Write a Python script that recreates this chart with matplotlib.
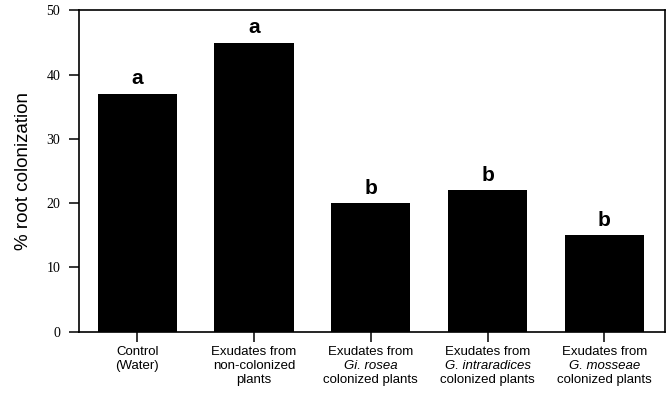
import matplotlib
matplotlib.use("Agg")
import matplotlib.pyplot as plt
import matplotlib.transforms as mtransforms

# data
categories = ["Control", "Exudates (non-colonized)", "Exudates (Gi. rosea)",
              "Exudates (G. intraradices)", "Exudates (G. mosseae)"]
colonization = [37, 45, 20, 22, 15]
letters = ["a", "a", "b", "b", "b"]

# tick label lines: (text, italic)
label_lines = [
    [("Control", False), ("(Water)", False)],
    [("Exudates from", False), ("non-colonized", False), ("plants", False)],
    [("Exudates from", False), ("Gi. rosea", True), ("colonized plants", False)],
    [("Exudates from", False), ("G. intraradices", True), ("colonized plants", False)],
    [("Exudates from", False), ("G. mosseae", True), ("colonized plants", False)],
]
yticks = [0, 10, 20, 30, 40, 50]

sans = ["Liberation Sans", "DejaVu Sans"]
serif = ["Liberation Serif", "DejaVu Serif"]

fig = plt.figure(figsize=(6.69, 4.0), dpi=100)
ax = fig.add_axes([0.118, 0.171, 0.876, 0.803])

x = list(range(len(categories)))
ax.bar(x, colonization, width=0.68, color="black")

# significance letters
for xi, v, s in zip(x, colonization, letters):
    ax.annotate(s, (xi, v), xytext=(0, 4), textcoords="offset points",
                ha="center", va="bottom", fontsize=15, fontweight="bold",
                family=sans)

ax.set_xlim(-0.5, 4.52)
ax.set_ylim(0, 50)
ax.set_yticks(yticks)
ax.set_yticklabels([str(t) for t in yticks], family=serif, fontsize=10)
ax.set_xticks(x)
ax.set_xticklabels([])
ax.tick_params(axis="y", direction="out", length=7.5, width=1.1, pad=6)
ax.tick_params(axis="x", direction="out", length=7, width=1.1)
for sp in ax.spines.values():
    sp.set_linewidth(1.2)

ax.set_ylabel("% root colonization", family=sans, fontsize=13.5)
ax.yaxis.set_label_coords(-0.08, 0.5)

# multi-line x labels with italic species names
trans = mtransforms.blended_transform_factory(ax.transData, fig.transFigure)
for xi, lines in zip(x, label_lines):
    for j, (txt, it) in enumerate(lines):
        ax.text(xi, 1 - 352 / 400 - j * 14 / 400, txt, transform=trans,
                ha="center", va="center", fontsize=9.5, family=sans,
                style="italic" if it else "normal")

fig.savefig("out.png", dpi=100)
